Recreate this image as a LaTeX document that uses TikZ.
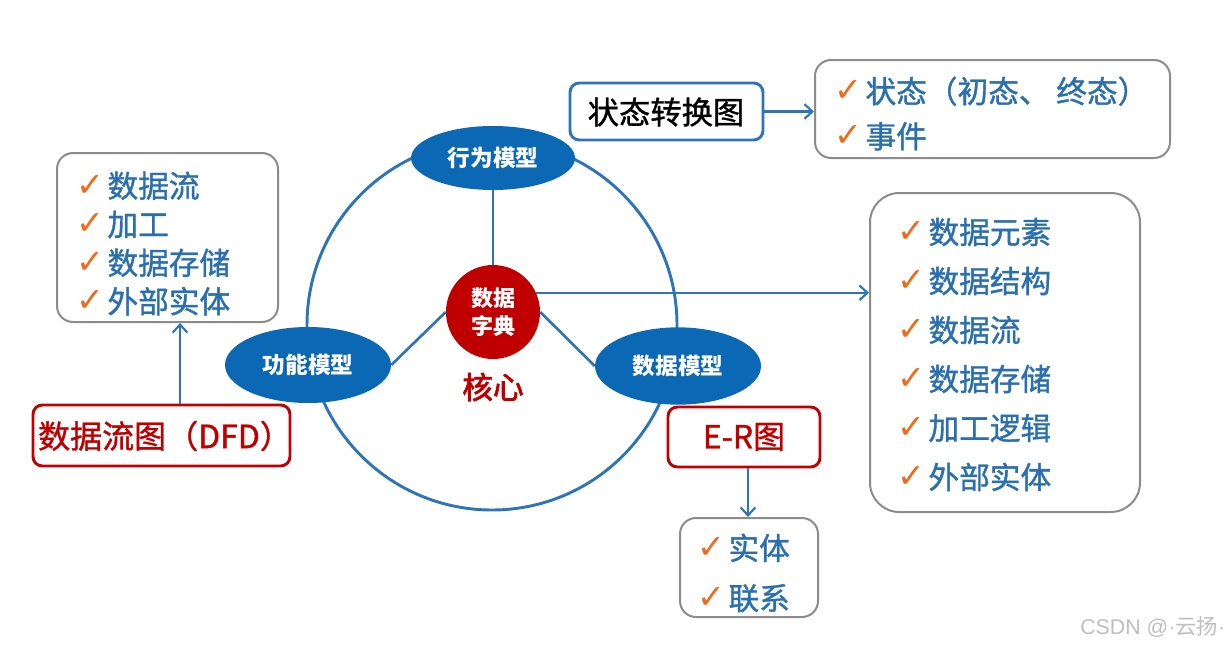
\documentclass[tikz,border=0pt]{standalone}
\usepackage{fontspec}
\setmainfont{Noto Sans CJK SC}
\newfontfamily\medfont{Noto Sans CJK SC}[FakeBold=1.2]
\newfontfamily\semifont{Noto Sans CJK SC}[FakeBold=2.4]
\newfontfamily\dejavu{DejaVu Sans}
\newfontfamily\wmfont{Liberation Sans}
\usetikzlibrary{shapes.geometric,arrows.meta,fit}
\definecolor{eblue}{HTML}{0B68B4}
\definecolor{tblue}{HTML}{2A6FAE}
\definecolor{lblue}{HTML}{2E75B6}
\definecolor{dred}{HTML}{C00000}
\definecolor{chk}{HTML}{F06A1C}
\definecolor{gbord}{HTML}{8C8C8C}
\newcommand\ck{\raisebox{1pt}{\dejavu\color{chk}\fontsize{25}{18}\selectfont ✓}\hspace{2.5pt}}
\begin{document}
\begin{tikzpicture}[x=0.75pt,y=-0.75pt,
  model/.style={ellipse,fill=eblue,text=white,font=\bfseries\fontsize{17}{17}\selectfont,inner sep=0pt},
  graybox/.style={draw=gbord,line width=1.5pt,rounded corners=12pt,inner sep=0pt},
  redbox/.style={draw=dred,line width=2.2pt,rounded corners=7pt,inner sep=0pt},
  bluebox/.style={draw=lblue,line width=2.2pt,rounded corners=7pt,inner sep=0pt},
  items/.style={anchor=west,align=left,text=tblue,inner sep=0pt},
  conn/.style={draw=lblue,line width=2pt},
  arr/.style={draw=lblue,line width=1.6pt,-{Straight Barb[length=6pt,width=11pt,line width=1.6pt]}}]
\useasboundingbox[fill=white] (0,0) rectangle (1230,646);

% big ring
\draw[lblue,line width=2.2pt] (492,325) circle[radius=138.75pt];

% model ellipses and core
\node[model,minimum width=123pt,minimum height=48pt] (beh) at (493,158) {行为模型};
\node[model,minimum width=124.5pt,minimum height=57pt] (fun) at (308,365) {功能模型};
\node[model,minimum width=124.5pt,minimum height=58pt] (dat) at (678,366) {数据模型};
\node[circle,fill=dred,text=white,minimum size=70.5pt,inner sep=0pt,align=center,
      font=\bfseries\fontsize{16.5}{21}\selectfont] (dict) at (493,312) {数据\\字典};
\node[text=dred,font=\semifont\fontsize{23}{23}\selectfont] (core) at (493,387) {核心};

\draw[conn] (beh.south) -- (dict.north);
\draw[conn] (fun.east) -- (dict.west);
\draw[conn] (dat.west) -- (dict.east);

% state diagram
\node[bluebox,fit={(570,83)(763,140)}] (st) {};
\node[font=\medfont\fontsize{23.5}{23.5}\selectfont] (stl) at (666,112) {状态转换图};
\node[graybox,fit={(815,60)(1170,158)}] (tr) {};
\node[items,font=\medfont\fontsize{23}{33.75}\selectfont] (trl) at (834,113.5) {\ck 状态（初态、 终态）\\ \ck 事件};
\draw[arr] (st.east) -- (st.east -| tr.west);

% left: DFD
\node[graybox,fit={(57,153)(278,322)}] (lb) {};
\node[items,font=\medfont\fontsize{23}{28.9}\selectfont] (lbl) at (76,243.5) {\ck 数据流\\ \ck 加工\\ \ck 数据存储\\ \ck 外部实体};
\node[redbox,fit={(33,405)(290,466)}] (dfd) {};
\node[text=dred,font=\medfont\fontsize{24}{24}\selectfont] (dfdl) at (165,436) {数据流图（DFD）};
\draw[arr] ([xshift=13.9pt]dfd.north) -- ([xshift=13.9pt]dfd.north |- lb.south);

% right: data dictionary contents
\node[graybox,rounded corners=22pt,fit={(870,193)(1140,512)}] (rb) {};
\node[items,font=\medfont\fontsize{23}{36.75}\selectfont] (rbl) at (897,354.5) {\ck 数据元素\\ \ck 数据结构\\ \ck 数据流\\ \ck 数据存储\\ \ck 加工逻辑\\ \ck 外部实体};
\draw[arr] (dict.24) -- (dict.24 -| rb.west);

% E-R
\node[redbox,fit={(668,407)(820,467)}] (er) {};
\node[text=dred,font=\medfont\fontsize{24}{24}\selectfont] (erl) at (744,437) {E-R图};
\node[graybox,fit={(680,518)(818,617)}] (bb) {};
\node[items,font=\medfont\fontsize{23}{37.5}\selectfont] (bbl) at (697,573) {\ck 实体\\ \ck 联系};
\draw[arr] ([xshift=3pt]er.south) -- ([xshift=3pt]er.south |- bb.north);

% watermark
\node[anchor=west,text=black!25,font=\wmfont\fontsize{16}{16}\selectfont,inner sep=0pt] (wm) at (1080,627) {CSDN @\textperiodcentered{\rmfamily 云扬}\textperiodcentered};
\end{tikzpicture}
\end{document}
